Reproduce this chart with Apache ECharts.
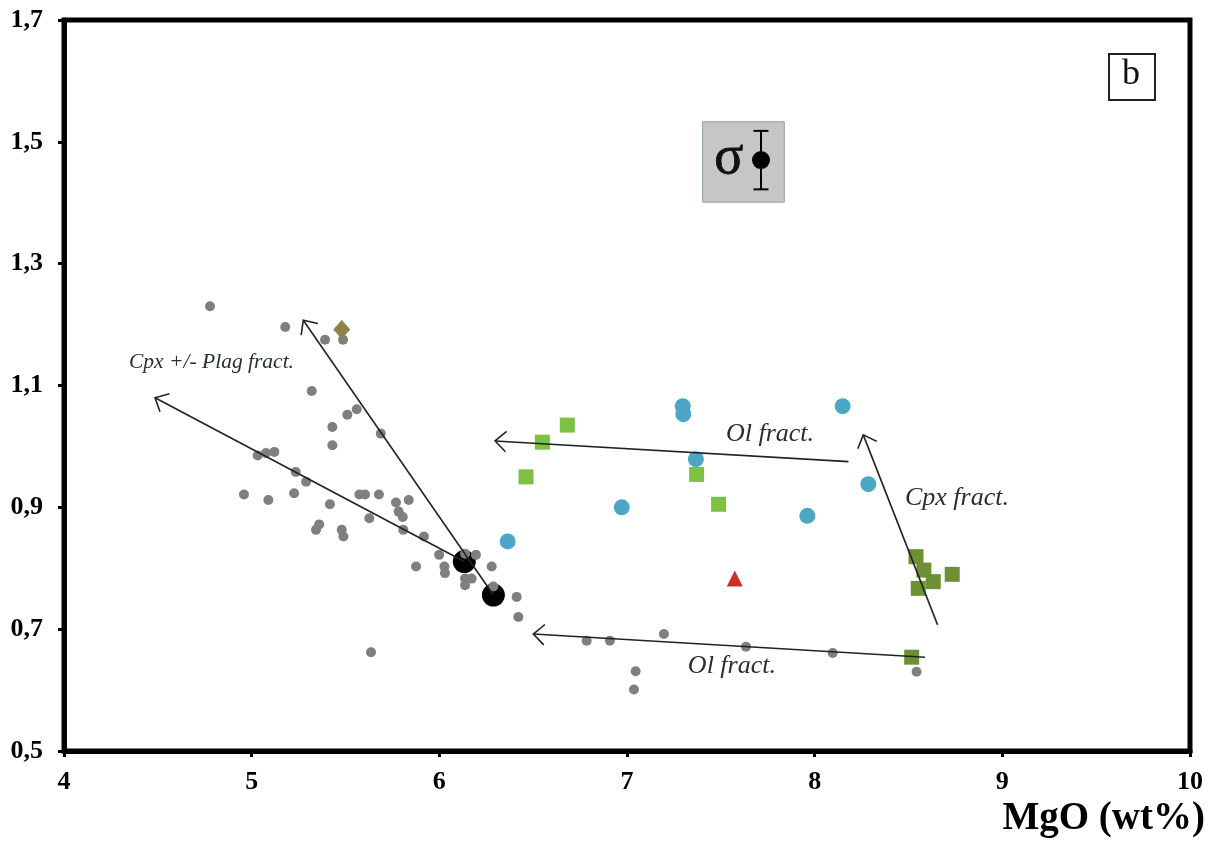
<!DOCTYPE html>
<html>
<head>
<meta charset="utf-8">
<script src="https://cdn.jsdelivr.net/npm/echarts@6/dist/echarts.min.js"></script>
<style>
html,body{margin:0;padding:0;background:#fff;}
#chart{width:1212px;height:845px;}
</style>
</head>
<body>
<div id="chart"></div>
<script>
// ---------- DATA ----------
const xTicks = [4, 5, 6, 7, 8, 9, 10];
const yTicks = [0.5, 0.7, 0.9, 1.1, 1.3, 1.5, 1.7];

const grayX = [4.778,5.179,5.391,5.487,5.320,5.560,5.510,5.430,5.688,5.430,5.032,5.076,5.121,5.235,5.290,4.959,5.089,5.226,5.417,5.574,5.604,5.678,5.769,5.837,5.783,5.805,5.627,5.360,5.343,5.480,5.489,5.808,5.918,5.999,5.876,6.027,6.030,6.195,6.279,6.137,6.172,6.137,6.412,6.421,5.636,6.785,6.909,7.197,7.634,8.096,7.046,7.037,8.543,6.137,6.288];
const grayY = [1.230,1.196,1.175,1.175,1.091,1.061,1.052,1.032,1.021,1.002,0.985,0.989,0.991,0.958,0.942,0.921,0.912,0.923,0.905,0.921,0.921,0.921,0.908,0.912,0.893,0.884,0.882,0.872,0.863,0.863,0.852,0.863,0.852,0.822,0.803,0.803,0.792,0.822,0.803,0.783,0.783,0.772,0.753,0.720,0.662,0.681,0.681,0.692,0.671,0.661,0.631,0.601,0.630,0.824,0.770];

const blackX = [6.133, 6.288];
const blackY = [0.811, 0.756];

const blueX = [7.297, 7.300, 8.149, 7.367, 8.286, 6.972, 7.961, 6.364];
const blueY = [1.066, 1.053, 1.066, 0.979, 0.938, 0.900, 0.886, 0.844];

const lightGreenX = [6.682, 6.549, 6.462, 7.371, 7.488];
const lightGreenY = [1.035, 1.007, 0.950, 0.954, 0.905];

const darkGreenX = [8.540, 8.582, 8.632, 8.552, 8.733, 8.517];
const darkGreenY = [0.819, 0.797, 0.778, 0.767, 0.790, 0.654];

const triangleX = [7.574];
const triangleY = [0.783];

const diamondX = [5.480];
const diamondY = [1.192];

// arrows: start -> tip
const arrowX1 = [6.133, 6.288, 8.180, 8.588, 8.655];
const arrowY1 = [0.811, 0.756, 0.975, 0.654, 0.707];
const arrowX2 = [4.485, 5.275, 6.297, 6.501, 8.259];
const arrowY2 = [1.080, 1.207, 1.009, 0.692, 1.019];

const noteText = ['Cpx +/- Plag fract.', 'Ol fract.', 'Cpx fract.', 'Ol fract.'];
const noteX = [4.786, 7.762, 8.758, 7.559];
const noteY = [1.1385, 1.020, 0.915, 0.640];

// sigma error indicator
const sigmaX = [7.714];
const sigmaY = [1.470];
const sigmaErr = [0.048];

// ---------- CHART ----------
const zip = (xs, ys) => xs.map((x, i) => [x, ys[i]]);
const serif = '"Liberation Serif", "Times New Roman", serif';
const fmt = v => v.toFixed(1).replace('.', ',');

const chart = echarts.init(document.getElementById('chart'), null, {renderer: 'canvas'});

const option = {
  backgroundColor: '#ffffff',
  animation: false,
  grid: {left: 64, right: 22, top: 20, bottom: 94, show: true, borderColor: '#000', borderWidth: 5, backgroundColor: 'transparent'},
  xAxis: {
    type: 'value', min: 4, max: 10, interval: 1,
    axisLine: {show: true, onZero: false, lineStyle: {color: '#000', width: 5}},
    axisTick: {show: true, length: 6, lineStyle: {color: '#000', width: 3}, customValues: xTicks},
    axisLabel: {color: '#000', fontFamily: serif, fontWeight: 'bold', fontSize: 26, margin: 18, customValues: xTicks, formatter: v => String(v)},
    splitLine: {show: false}
  },
  yAxis: {
    type: 'value', min: 0.5, max: 1.7,
    axisLine: {show: true, onZero: false, lineStyle: {color: '#000', width: 5}},
    axisTick: {show: true, length: 6, lineStyle: {color: '#000', width: 3}, customValues: yTicks},
    axisLabel: {color: '#000', fontFamily: serif, fontWeight: 'bold', fontSize: 26, margin: 21, customValues: yTicks, formatter: v => fmt(v)},
    splitLine: {show: false}
  },
  graphic: [
    {type: 'rect', left: 1108, top: 53, shape: {width: 46, height: 46}, style: {fill: '#fff', stroke: '#222', lineWidth: 2}, z: 100},
    {type: 'text', x: 1131, y: 75, style: {text: 'b', font: '36px ' + serif, fill: '#111', align: 'center', verticalAlign: 'middle'}, z: 101},
    {type: 'text', x: 1205, y: 819, style: {text: 'MgO (wt%)', font: 'bold 39px ' + serif, fill: '#000', align: 'right', verticalAlign: 'middle'}, z: 101}
  ],
  series: [
    {
      name: 'sigma', type: 'custom', coordinateSystem: 'cartesian2d', z: 3,
      data: sigmaX.map((x, i) => [x, sigmaY[i], sigmaErr[i]]),
      encode: {x: 0, y: 1},
      markArea: {
        silent: true,
        itemStyle: {color: '#C6C6C6', borderColor: '#8fa0a8', borderWidth: 1, opacity: 1},
        data: [[{xAxis: 7.403, yAxis: 1.533}, {xAxis: 7.838, yAxis: 1.401}]]
      },
      renderItem: function (params, api) {
        const x = api.value(0), y = api.value(1), e = api.value(2);
        const c = api.coord([x, y]);
        const t = api.coord([x, y + e]);
        const b = api.coord([x, y - e]);
        const w = 7.5;
        const st = {stroke: '#000', lineWidth: 2};
        return {type: 'group', children: [
          {type: 'line', shape: {x1: t[0], y1: t[1], x2: b[0], y2: b[1]}, style: st},
          {type: 'line', shape: {x1: t[0] - w, y1: t[1], x2: t[0] + w, y2: t[1]}, style: st},
          {type: 'line', shape: {x1: b[0] - w, y1: b[1], x2: b[0] + w, y2: b[1]}, style: st},
          {type: 'circle', shape: {cx: c[0], cy: c[1], r: 9}, style: {fill: '#000'}}
        ]};
      }
    },
    {
      name: 'sigmaLabel', type: 'scatter', symbolSize: 0, z: 4, silent: true,
      itemStyle: {opacity: 1},
      data: [{value: [7.543, 1.472], name: 'σ'}],
      label: {show: true, position: 'inside', formatter: '{b}', fontFamily: serif, fontSize: 54, color: '#111', textBorderColor: '#111', textBorderWidth: 0.8}
    },
    {
      name: 'black', type: 'scatter', symbol: 'circle', symbolSize: 23, z: 2,
      itemStyle: {color: '#000', opacity: 1}, data: zip(blackX, blackY)
    },
    {
      name: 'gray', type: 'scatter', symbol: 'circle', symbolSize: 10, z: 3,
      itemStyle: {color: '#7f7f7f', opacity: 1}, data: zip(grayX, grayY)
    },
    {
      name: 'diamond', type: 'scatter', symbol: 'diamond', symbolSize: [17, 19], z: 4,
      itemStyle: {color: '#8E8449', opacity: 1}, data: zip(diamondX, diamondY)
    },
    {
      name: 'blue', type: 'scatter', symbol: 'circle', symbolSize: 16, z: 4,
      itemStyle: {color: '#4BA7C3', opacity: 1}, data: zip(blueX, blueY)
    },
    {
      name: 'lightGreen', type: 'scatter', symbol: 'rect', symbolSize: 15, z: 4,
      itemStyle: {color: '#7DC143', opacity: 1}, data: zip(lightGreenX, lightGreenY)
    },
    {
      name: 'darkGreen', type: 'scatter', symbol: 'rect', symbolSize: 15, z: 4,
      itemStyle: {color: '#6E8F33', opacity: 1}, data: zip(darkGreenX, darkGreenY)
    },
    {
      name: 'triangle', type: 'scatter', symbol: 'triangle', symbolSize: 16, z: 4,
      itemStyle: {color: '#C9302A', opacity: 1}, data: zip(triangleX, triangleY)
    },
    {
      name: 'arrows', type: 'custom', coordinateSystem: 'cartesian2d', z: 5, silent: true,
      data: arrowX1.map((x, i) => [x, arrowY1[i], arrowX2[i], arrowY2[i]]),
      encode: {x: [0, 2], y: [1, 3]},
      renderItem: function (params, api) {
        const p1 = api.coord([api.value(0), api.value(1)]);
        const p2 = api.coord([api.value(2), api.value(3)]);
        const ang = Math.atan2(p2[1] - p1[1], p2[0] - p1[0]);
        const L = 15, a = Math.PI / 4.2;
        const h1 = [p2[0] - L * Math.cos(ang - a), p2[1] - L * Math.sin(ang - a)];
        const h2 = [p2[0] - L * Math.cos(ang + a), p2[1] - L * Math.sin(ang + a)];
        const st = {stroke: '#1e2424', lineWidth: 1.6, fill: null};
        return {type: 'group', children: [
          {type: 'line', shape: {x1: p1[0], y1: p1[1], x2: p2[0], y2: p2[1]}, style: st},
          {type: 'polyline', shape: {points: [h1, p2, h2]}, style: st}
        ]};
      }
    },
    {
      name: 'notes', type: 'scatter', symbolSize: 0, z: 6, silent: true,
      itemStyle: {opacity: 1},
      data: noteText.map((t, i) => ({value: [noteX[i], noteY[i]], name: t})),
      label: {show: true, position: 'inside', formatter: '{b}', fontFamily: serif, fontStyle: 'italic', fontSize: 26, color: '#263030'}
    }
  ]
};
option.series[option.series.length - 1].data[0].label = {fontSize: 21.5};
chart.setOption(option);
</script>
</body>
</html>
